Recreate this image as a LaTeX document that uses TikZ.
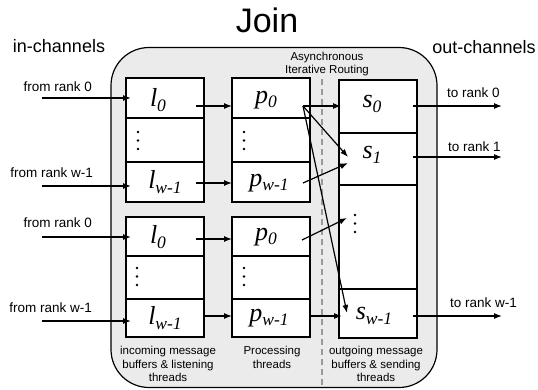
\documentclass[tikz,border=0pt]{standalone}
\usepackage{fontspec}
\setmainfont{Liberation Sans}
\newfontfamily\tms{Liberation Serif}
\usetikzlibrary{arrows.meta}
\definecolor{panelgray}{HTML}{EBEBEB}
\definecolor{dashgray}{HTML}{9A9A9A}
\newcommand\mlab[2]{{\fontsize{26}{26}\selectfont\tms\itshape #1\raisebox{-4.5pt}{\fontsize{17.5}{17.5}\selectfont #2}}}
\begin{document}
\begin{tikzpicture}[x=1pt,y=-1pt,
  cell/.style={draw, line width=1.2pt, fill=white, inner sep=0pt, minimum width=78pt},
  arr/.style={line width=1.2pt, -{Latex[length=8pt,width=6pt]}},
  lbl/.style={inner sep=0pt, font=\fontsize{13.5}{13.5}\selectfont},
  small/.style={inner sep=0pt, align=center, font=\fontsize{11.5}{13.5}\selectfont},
  sym/.style={inner sep=0pt},
  dotpt/.style={circle, fill, inner sep=0pt, minimum size=2.8pt},
]
\useasboundingbox (0,0) rectangle (538,389);
% panel
\node[draw, line width=1.2pt, fill=panelgray, rounded corners=38pt, minimum width=326pt, minimum height=340pt, inner sep=0pt] (panel) at (274,217.5) {};
% dashed separator
\coordinate (dtop) at (322,79);
\coordinate (dbot) at (322,388);
\draw[dashgray, line width=1.2pt, dash pattern=on 6pt off 4pt] (dtop) -- (dbot);
% title and headers
\node[inner sep=0pt, font=\fontsize{34}{34}\selectfont] (title) at (267,20) {Join};
\node[inner sep=0pt, font=\fontsize{18}{18}\selectfont] (inch) at (59,46) {in-channels};
\node[inner sep=0pt, font=\fontsize{18}{18}\selectfont] (outch) at (484,47) {out-channels};
\node[small] (air) at (327,64) {Asynchronous\\Iterative Routing};
% l column
\node[cell, minimum height=40pt] (la0) at (165,98) {};
\node[cell, minimum height=44pt] (lad) at (165,140) {};
\node[cell, minimum height=40pt] (law) at (165,182) {};
\node[cell, minimum height=39pt] (lb0) at (165,236.5) {};
\node[cell, minimum height=43pt] (lbd) at (165,277.5) {};
\node[cell, minimum height=38pt] (lbw) at (165,318) {};
% p column
\node[cell, minimum height=40pt] (pa0) at (271,98) {};
\node[cell, minimum height=44pt] (pad) at (271,140) {};
\node[cell, minimum height=40pt] (paw) at (271,182) {};
\node[cell, minimum height=39pt] (pb0) at (271,236.5) {};
\node[cell, minimum height=43pt] (pbd) at (271,277.5) {};
\node[cell, minimum height=38pt] (pbw) at (271,318) {};
% s column
\node[cell, minimum height=53pt] (s0) at (378,106.5) {};
\node[cell, minimum height=52pt] (s1) at (378,159) {};
\node[cell, minimum height=104pt] (sd) at (378,237) {};
\node[cell, minimum height=49pt] (sw) at (378,313.5) {};
% symbols
\node[sym] (tla0) at (158,100) {\mlab{l}{0}};
\node[sym] (tlaw) at (165,182) {\mlab{l}{w-1}};
\node[sym] (tlb0) at (158,237) {\mlab{l}{0}};
\node[sym] (tlbw) at (165,318) {\mlab{l}{w-1}};
\node[sym] (tpa0) at (266,100) {\mlab{p}{0}};
\node[sym] (tpaw) at (269,183) {\mlab{p}{w-1}};
\node[sym] (tpb0) at (266,237) {\mlab{p}{0}};
\node[sym] (tpbw) at (269,318) {\mlab{p}{w-1}};
\node[sym] (ts0) at (372,104) {\mlab{s}{0}};
\node[sym] (ts1) at (372,155) {\mlab{s}{1}};
\node[sym] (tsw) at (374,316) {\mlab{s}{w-1}};
% vertical dots
\foreach \x/\y [count=\i] in {138/132, 244/132, 137/268, 244/268, 355/215}{
  \node[dotpt] (d\i a) at (\x,\y) {};
  \node[dotpt] (d\i b) at (\x,\y+8.5) {};
  \node[dotpt] (d\i c) at (\x,\y+17) {};
}
% side labels
\node[lbl, anchor=east] (fa0) at (92,87) {from rank 0};
\node[lbl, anchor=east] (faw) at (93,173) {from rank w-1};
\node[lbl, anchor=east] (fb0) at (92,223) {from rank 0};
\node[lbl, anchor=east] (fbw) at (92,308) {from rank w-1};
\node[lbl, anchor=west] (to0) at (447,93) {to rank 0};
\node[lbl, anchor=west] (to1) at (448,147) {to rank 1};
\node[lbl, anchor=west] (tow) at (450,303) {to rank w-1};
% bottom captions
\node[small] (capl) at (168,364) {incoming message\\buffers \& listening\\threads};
\node[small] (capp) at (272,357.5) {Processing\\threads};
\node[small] (caps) at (376,364) {outgoing message\\buffers \& sending\\threads};
% arrow endpoints
\coordinate (ia0) at (42,98);   \coordinate (ia0e) at (131,98);
\coordinate (iaw) at (42,186);  \coordinate (iawe) at (131,186);
\coordinate (ib0) at (42,237);  \coordinate (ib0e) at (131,237);
\coordinate (ibw) at (42,321);  \coordinate (ibwe) at (131,321);
\coordinate (la0o) at (196,106); \coordinate (pa0i) at (232,106);
\coordinate (lawo) at (196,183); \coordinate (pawi) at (232,183);
\coordinate (lb0o) at (196,239); \coordinate (pb0i) at (232,239);
\coordinate (lbwo) at (204,316); \coordinate (pbwi) at (232,316);
\coordinate (pa0o) at (303,106);
\coordinate (s0i) at (341,106);
\coordinate (s1i) at (348,157);
\coordinate (swi) at (347,313);
\coordinate (pawo) at (303,183); \coordinate (s1j) at (348,163);
\coordinate (pb0o) at (302,240); \coordinate (sdi) at (347,218);
\coordinate (pbwo) at (310,316); \coordinate (swj) at (342,316);
\coordinate (s0o) at (413,106); \coordinate (o0) at (502,106);
\coordinate (s1o) at (413,157); \coordinate (o1) at (502,157);
\coordinate (swo) at (413,316); \coordinate (ow) at (502,316);
% arrows
\draw[arr] (ia0) -- (ia0e);
\draw[arr] (iaw) -- (iawe);
\draw[arr] (ib0) -- (ib0e);
\draw[arr] (ibw) -- (ibwe);
\draw[arr] (la0o) -- (pa0i);
\draw[arr] (lawo) -- (pawi);
\draw[arr] (lb0o) -- (pb0i);
\draw[arr] (lbwo) -- (pbwi);
\draw[arr] (pa0o) -- (s0i);
\draw[arr] (pa0o) -- (s1i);
\draw[arr] (pa0o) -- (swi);
\draw[arr] (pawo) -- (s1j);
\draw[arr] (pb0o) -- (sdi);
\draw[arr] (pbwo) -- (swj);
\draw[arr] (s0o) -- (o0);
\draw[arr] (s1o) -- (o1);
\draw[arr] (swo) -- (ow);
\end{tikzpicture}
\end{document}
